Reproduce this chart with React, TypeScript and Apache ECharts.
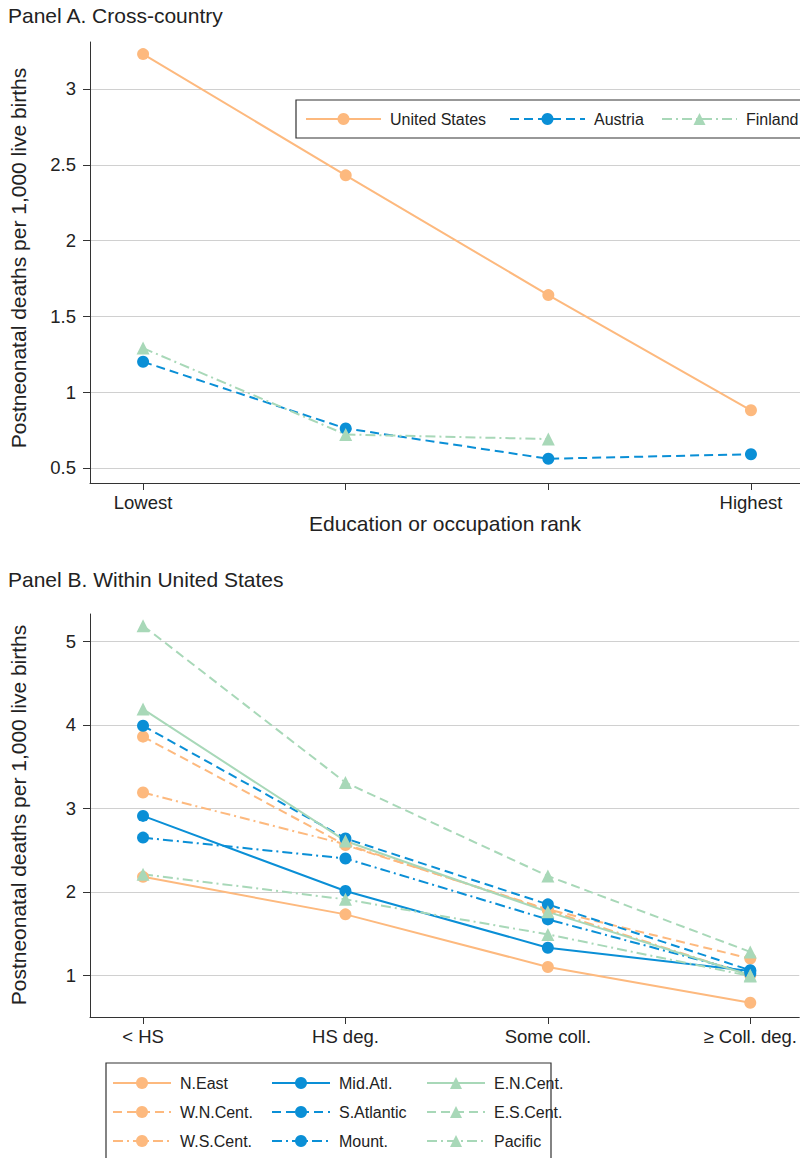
import React, { useEffect, useRef } from "react";
import * as echarts from "echarts";

// ---------- data ----------
const rankPositions = [1, 2, 3, 4];

const panelALabels = ["Lowest", "", "", "Highest"];
const panelATicks = [0.5, 1, 1.5, 2, 2.5, 3];
const usValues = [3.23, 2.43, 1.64, 0.88];
const austriaValues = [1.2, 0.76, 0.56, 0.59];
const finlandValues: (number | null)[] = [1.29, 0.72, 0.69, null];

const panelBLabels = ["< HS", "HS deg.", "Some coll.", "\u2265 Coll. deg."];
const panelBTicks = [1, 2, 3, 4, 5];
const nEast = [2.18, 1.73, 1.1, 0.67];
const wnCent = [3.86, 2.56, 1.79, 1.2];
const wsCent = [3.19, 2.57, 1.78, 1.0];
const midAtl = [2.91, 2.01, 1.33, 1.05];
const sAtlantic = [3.99, 2.64, 1.85, 1.06];
const mount = [2.65, 2.4, 1.67, 1.02];
const enCent = [4.19, 2.61, 1.76, 1.0];
const esCent = [5.19, 3.31, 2.19, 1.28];
const pacific = [2.21, 1.91, 1.49, 0.99];

// ---------- styles ----------
const ORANGE = "#FDB97E";
const BLUE = "#0A8FD6";
const GREEN = "#A8D8B8";
const SOLID = "solid";
const DASH = [9, 5];
const DASHDOT = [10, 4, 2, 4];
const FONT = "'Liberation Sans', Arial, Helvetica, sans-serif";
const TEXT = "#222";

function mk(name: string, vals: (number | null)[], color: string, dash: any, symbol: string, idx: number) {
  return {
    name,
    type: "line",
    xAxisIndex: idx,
    yAxisIndex: idx,
    data: rankPositions.map((x, i) => [x, vals[i] == null ? "-" : vals[i]]),
    symbol,
    symbolSize: symbol === "triangle" ? 13 : 12,
    showSymbol: true,
    connectNulls: false,
    lineStyle: { color, width: 2, type: dash },
    itemStyle: { color },
    emphasis: { disabled: true },
  };
}

function xAxis(idx: number, labels: string[]) {
  return {
    type: "value",
    gridIndex: idx,
    min: 0.738,
    max: 4.242,
    axisLine: { show: true, onZero: false, lineStyle: { color: "#333", width: 1 } },
    axisTick: { show: true, length: 7, customValues: rankPositions, lineStyle: { color: "#333" } },
    axisLabel: {
      customValues: rankPositions,
      formatter: (v: number) => labels[rankPositions.indexOf(Math.round(v))] ?? "",
      fontSize: 18.5,
      color: TEXT,
      fontFamily: FONT,
      margin: 10,
    },
    splitLine: { show: false },
  };
}

function yAxis(idx: number, min: number, max: number, ticks: number[]) {
  return {
    type: "value",
    gridIndex: idx,
    min,
    max,
    axisLine: { show: true, onZero: false, lineStyle: { color: "#333", width: 1 } },
    axisTick: { show: true, length: 7, customValues: ticks, lineStyle: { color: "#333" } },
    axisLabel: { customValues: ticks, fontSize: 18.5, color: TEXT, fontFamily: FONT, margin: 14 },
    splitLine: { show: true, lineStyle: { color: "#d0d0d0", width: 1.2 } },
  };
}

function legend(left: number, top: number, names: string[], itemWidth: number, orient = "horizontal") {
  return {
    left,
    top,
    orient,
    data: names,
    padding: 0,
    itemWidth,
    itemHeight: 15,
    itemGap: 13,
    selectedMode: false,
    z: 6,
    textStyle: { fontSize: 16, color: TEXT, fontFamily: FONT, padding: [0, 0, 0, 4] },
  };
}

export default function App() {
  const ref = useRef<HTMLDivElement>(null);
  useEffect(() => {
    if (!ref.current) return;
    const chart = echarts.init(ref.current, null, { renderer: "svg" });
    const option: any = {
      animation: false,
      backgroundColor: "#fff",
      textStyle: { fontFamily: FONT },
      grid: [
        { left: 90, top: 42, width: 710, height: 441 },
        { left: 90, top: 614, width: 710, height: 403 },
      ],
      xAxis: [xAxis(0, panelALabels), xAxis(1, panelBLabels)],
      yAxis: [yAxis(0, 0.4, 3.31, panelATicks), yAxis(1, 0.5, 5.33, panelBTicks)],
      legend: [
        legend(305, 111, ["United States"], 75),
        legend(509, 111, ["Austria"], 75),
        legend(661, 111, ["Finland"], 75),
        legend(112, 1075, ["N.East", "W.N.Cent.", "W.S.Cent."], 58, "vertical"),
        legend(271, 1075, ["Mid.Atl.", "S.Atlantic", "Mount."], 58, "vertical"),
        legend(426, 1075, ["E.N.Cent.", "E.S.Cent.", "Pacific"], 58, "vertical"),
      ],
      graphic: [
        { type: "rect", z: 3, shape: { x: 296, y: 100, width: 520, height: 38 }, style: { fill: "#fff", stroke: "#333", lineWidth: 1.2 } },
        { type: "rect", z: 3, shape: { x: 106, y: 1063, width: 445, height: 120 }, style: { fill: "#fff", stroke: "#333", lineWidth: 1.2 } },
        { type: "text", x: 8, y: 15, style: { text: "Panel A. Cross-country", fontSize: 21, fill: TEXT, fontFamily: FONT, align: "left", verticalAlign: "middle" } },
        { type: "text", x: 8, y: 579, style: { text: "Panel B. Within United States", fontSize: 21, fill: TEXT, fontFamily: FONT, align: "left", verticalAlign: "middle" } },
        { type: "text", x: 18, y: 258, rotation: Math.PI / 2, style: { text: "Postneonatal deaths per 1,000 live births", fontSize: 21, fill: TEXT, fontFamily: FONT, align: "center", verticalAlign: "middle" } },
        { type: "text", x: 18, y: 815, rotation: Math.PI / 2, style: { text: "Postneonatal deaths per 1,000 live births", fontSize: 21, fill: TEXT, fontFamily: FONT, align: "center", verticalAlign: "middle" } },
        { type: "text", x: 445, y: 523, style: { text: "Education or occupation rank", fontSize: 21, fill: TEXT, fontFamily: FONT, align: "center", verticalAlign: "middle" } },
      ],
      series: [
        mk("United States", usValues, ORANGE, SOLID, "circle", 0),
        mk("Austria", austriaValues, BLUE, DASH, "circle", 0),
        mk("Finland", finlandValues, GREEN, DASHDOT, "triangle", 0),
        mk("N.East", nEast, ORANGE, SOLID, "circle", 1),
        mk("W.N.Cent.", wnCent, ORANGE, DASH, "circle", 1),
        mk("W.S.Cent.", wsCent, ORANGE, DASHDOT, "circle", 1),
        mk("Mid.Atl.", midAtl, BLUE, SOLID, "circle", 1),
        mk("S.Atlantic", sAtlantic, BLUE, DASH, "circle", 1),
        mk("Mount.", mount, BLUE, DASHDOT, "circle", 1),
        mk("E.N.Cent.", enCent, GREEN, SOLID, "triangle", 1),
        mk("E.S.Cent.", esCent, GREEN, DASH, "triangle", 1),
        mk("Pacific", pacific, GREEN, DASHDOT, "triangle", 1),
      ],
    };
    chart.setOption(option);
    return () => chart.dispose();
  }, []);
  return (
    <div
      ref={ref}
      style={{ position: "absolute", left: 0, top: 0, width: 800, height: 1158, background: "#fff" }}
    />
  );
}
